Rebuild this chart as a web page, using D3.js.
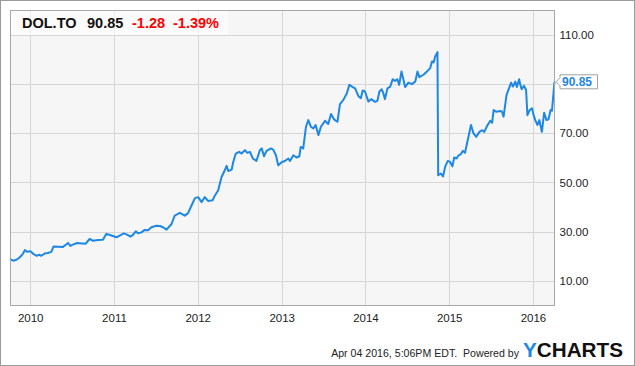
<!DOCTYPE html>
<html>
<head>
<meta charset="utf-8">
<script src="https://cdn.jsdelivr.net/npm/d3@7"></script>
<style>
    body { margin: 0; background: #fff; }
    svg text { font-family: "Liberation Sans", Arial, sans-serif; }
</style>
</head>
<body>
<div id="chart"></div>
<script>
var TICKER = 'DOL.TO'
var LAST_PRICE = '90.85'
var CHANGE = '-1.28'
var CHANGE_PCT = '-1.39%'
var STAMP = 'Apr 04 2016, 5:06PM EDT.  Powered by'

var DATES = [
    '2009-10-05', '2009-10-18', '2009-11-02', '2009-11-16', '2009-12-01', '2009-12-09', '2009-12-18',
    '2010-01-02', '2010-01-13', '2010-01-28', '2010-02-11', '2010-02-19', '2010-03-05', '2010-03-19',
    '2010-04-03', '2010-04-13', '2010-05-02', '2010-05-24', '2010-06-04', '2010-06-15', '2010-06-25',
    '2010-07-06', '2010-07-24', '2010-08-16', '2010-08-31', '2010-09-17', '2010-10-02', '2010-10-23',
    '2010-11-14', '2010-11-29', '2010-12-21', '2011-01-12', '2011-01-26', '2011-02-13', '2011-02-27',
    '2011-03-14', '2011-03-25', '2011-04-06', '2011-04-16', '2011-05-01', '2011-05-15', '2011-05-30',
    '2011-06-13', '2011-07-05', '2011-07-20', '2011-08-03', '2011-08-18', '2011-09-09', '2011-09-23',
    '2011-10-15', '2011-11-06', '2011-11-20', '2011-12-05', '2011-12-20', '2012-01-03', '2012-01-18',
    '2012-02-01', '2012-02-16', '2012-03-06', '2012-03-16', '2012-03-30', '2012-04-14', '2012-04-28',
    '2012-05-06', '2012-05-13', '2012-05-28', '2012-06-04', '2012-06-15', '2012-06-30', '2012-07-10',
    '2012-07-25', '2012-08-04', '2012-08-16', '2012-08-28', '2012-09-13', '2012-09-28', '2012-10-06',
    '2012-10-16', '2012-10-27', '2012-11-15', '2012-11-25', '2012-12-07', '2012-12-17', '2013-01-02',
    '2013-01-15', '2013-01-30', '2013-02-06', '2013-02-21', '2013-03-07', '2013-03-19', '2013-03-25',
    '2013-04-05', '2013-04-17', '2013-04-27', '2013-05-08', '2013-05-19', '2013-05-29', '2013-06-10',
    '2013-06-21', '2013-07-09', '2013-07-23', '2013-08-04', '2013-08-17', '2013-09-01', '2013-09-12',
    '2013-09-27', '2013-10-12', '2013-10-23', '2013-11-07', '2013-11-17', '2013-12-01', '2013-12-12',
    '2013-12-20', '2013-12-30', '2014-01-14', '2014-01-26', '2014-02-12', '2014-02-22', '2014-03-03',
    '2014-03-13', '2014-03-20', '2014-03-27', '2014-04-07', '2014-04-19', '2014-04-30', '2014-05-10',
    '2014-05-20', '2014-05-28', '2014-06-07', '2014-06-16', '2014-06-23', '2014-07-07', '2014-07-22',
    '2014-08-06', '2014-08-16', '2014-08-24', '2014-09-11', '2014-09-26', '2014-10-10', '2014-10-18',
    '2014-10-25', '2014-11-01', '2014-11-11', '2014-11-14', '2014-11-26', '2014-12-05', '2014-12-15',
    '2014-12-26', '2015-01-05', '2015-01-15', '2015-01-23', '2015-02-02', '2015-02-11', '2015-02-20',
    '2015-03-02', '2015-03-11', '2015-03-26', '2015-04-06', '2015-04-17', '2015-04-29', '2015-05-13',
    '2015-05-25', '2015-06-03', '2015-06-15', '2015-06-29', '2015-07-07', '2015-07-14', '2015-07-24',
    '2015-08-12', '2015-08-19', '2015-08-26', '2015-09-08', '2015-09-17', '2015-09-28', '2015-10-06',
    '2015-10-16', '2015-10-23', '2015-11-02', '2015-11-06', '2015-11-13', '2015-11-23', '2015-12-02',
    '2015-12-08', '2015-12-18', '2015-12-28', '2016-01-04', '2016-01-11', '2016-01-21', '2016-01-29',
    '2016-02-09', '2016-02-19', '2016-02-29', '2016-03-09', '2016-03-18', '2016-03-24', '2016-04-04'
]

var PRICES = [
    18.9, 18.2, 18.6, 19.5, 21.1, 22.5, 21.8,
    22.0, 21.1, 20.2, 20.6, 20.2, 21.1, 21.3,
    21.8, 24.0, 23.9, 23.8, 24.6, 25.4, 24.2,
    24.7, 25.4, 25.2, 25.1, 27.0, 26.3, 26.6,
    26.7, 29.1, 28.4, 27.7, 28.4, 29.3, 28.8,
    28.0, 28.7, 30.1, 29.3, 29.7, 30.7, 30.6,
    31.8, 32.4, 32.3, 31.8, 30.8, 33.1, 36.5,
    37.6, 36.5, 37.5, 40.6, 43.6, 44.0, 42.0,
    44.0, 42.4, 42.7, 44.7, 46.7, 52.2, 54.9,
    56.7, 54.6, 55.2, 58.3, 61.7, 62.4, 61.7,
    63.1, 62.0, 62.4, 59.7, 58.7, 63.1, 63.8,
    60.6, 62.8, 63.8, 63.3, 61.0, 56.9, 58.3,
    58.7, 59.7, 58.7, 61.0, 60.1, 60.6, 64.4,
    63.8, 72.6, 75.3, 72.6, 71.9, 73.3, 69.2,
    72.6, 75.0, 73.7, 77.8, 75.6, 74.6, 81.8,
    83.5, 86.2, 89.6, 88.7, 88.2, 85.1, 84.2,
    87.3, 86.9, 82.8, 83.8, 82.7, 83.1, 86.9,
    87.8, 86.2, 83.8, 88.2, 88.9, 91.9, 91.2,
    91.9, 89.6, 95.0, 91.6, 88.7, 90.5, 89.9,
    90.9, 95.0, 92.7, 93.7, 95.0, 96.4, 99.1,
    98.7, 101.1, 102.9, 52.9, 53.6, 52.4, 56.5,
    58.7, 58.3, 56.5, 60.1, 59.7, 61.0, 61.4,
    62.8, 62.0, 68.5, 73.3, 69.9, 68.5, 70.5,
    71.2, 70.5, 72.9, 75.0, 74.2, 79.4, 78.7,
    79.0, 78.7, 76.7, 85.5, 87.8, 90.5, 88.9,
    90.9, 88.7, 91.9, 90.0, 87.8, 89.2, 87.6,
    77.3, 79.4, 80.1, 77.3, 75.3, 73.3, 75.3,
    70.5, 78.3, 75.3, 75.6, 79.4, 79.1, 90.85
]

var Y_TICKS = [10, 30, 50, 70, 90, 110]
var Y_DOMAIN = [0, 120]
var X_TICKS = ['2010-01-01', '2011-01-01', '2012-01-01', '2013-01-01', '2014-01-01', '2015-01-01', '2016-01-01']

var W = 635
var H = 366
var LINE_COLOR = '#1d87e4'

var parseDate = d3.timeParse('%Y-%m-%d')

var data = DATES.map(function (d, i) {
    return { date: parseDate(d), price: PRICES[i] }
})

var plot = { left: 10, top: 10, right: 554.5, bottom: 305.5 }

var svg = d3.select('#chart')
    .append('svg')
    .attr('width', W)
    .attr('height', H)

// outer frame
svg.append('rect')
    .attr('x', 0.5)
    .attr('y', 0.5)
    .attr('width', W - 1)
    .attr('height', H - 1)
    .attr('fill', '#fff')
    .attr('stroke', '#9a9a9a')

var x = d3.scaleTime()
    .domain(d3.extent(data, function (d) { return d.date }))
    .range([plot.left, plot.right])

var y = d3.scaleLinear()
    .domain(Y_DOMAIN)
    .range([plot.bottom, plot.top])

svg.append('rect')
    .attr('x', plot.left)
    .attr('y', plot.top)
    .attr('width', plot.right - plot.left)
    .attr('height', plot.bottom - plot.top)
    .attr('fill', '#f6f6f6')

// grid lines
svg.append('g')
    .attr('class', 'y-grid')
    .selectAll('line')
    .data(Y_TICKS)
    .enter().append('line')
    .attr('x1', plot.left)
    .attr('x2', plot.right)
    .attr('y1', function (d) { return Math.round(y(d)) + 0.5 })
    .attr('y2', function (d) { return Math.round(y(d)) + 0.5 })
    .attr('stroke', '#d6d6d6')

var xTickDates = X_TICKS.map(parseDate)

svg.append('g')
    .attr('class', 'x-grid')
    .selectAll('line')
    .data(xTickDates)
    .enter().append('line')
    .attr('x1', function (d) { return Math.round(x(d)) + 0.5 })
    .attr('x2', function (d) { return Math.round(x(d)) + 0.5 })
    .attr('y1', plot.top)
    .attr('y2', plot.bottom)
    .attr('stroke', '#d6d6d6')

// header box
svg.append('rect')
    .attr('x', plot.left)
    .attr('y', plot.top)
    .attr('width', 218)
    .attr('height', 25)
    .attr('fill', '#fff')
    .attr('fill-opacity', 0.6)

var line = d3.line()
    .x(function (d) { return x(d.date) })
    .y(function (d) { return y(d.price) })

svg.append('path')
    .datum(data)
    .attr('fill', 'none')
    .attr('stroke', LINE_COLOR)
    .attr('stroke-width', 2)
    .attr('stroke-linejoin', 'round')
    .attr('d', line)

// plot frame
svg.append('rect')
    .attr('x', plot.left + 0.5)
    .attr('y', plot.top + 0.5)
    .attr('width', plot.right - plot.left - 0.5)
    .attr('height', plot.bottom - plot.top - 0.5)
    .attr('fill', 'none')
    .attr('stroke', '#a8a8a8')

// axes
var xAxis = d3.axisBottom(x)
    .tickValues(xTickDates)
    .tickSize(0)
    .tickPadding(8)
    .tickFormat(d3.timeFormat('%Y'))

svg.append('g')
    .attr('class', 'x-axis')
    .attr('transform', 'translate(0,' + plot.bottom + ')')
    .call(xAxis)

var last = data[data.length - 1]
var flagY = y(last.price)

var yAxis = d3.axisRight(y)
    .tickValues(Y_TICKS.filter(function (t) { return Math.abs(y(t) - flagY) > 10 }))
    .tickSize(0)
    .tickPadding(5)
    .tickFormat(d3.format('.2f'))

svg.append('g')
    .attr('class', 'y-axis')
    .attr('transform', 'translate(' + plot.right + ',0)')
    .call(yAxis)

svg.selectAll('.x-axis .domain, .y-axis .domain').remove()
svg.selectAll('.x-axis text, .y-axis text')
    .attr('fill', '#222')
    .style('font-size', '11.5px')

// last price flag
var flag = svg.append('g')
    .attr('transform', 'translate(' + (plot.right + 1) + ',' + flagY + ')')

flag.append('path')
    .attr('d', 'M0.5,0 L4.5,-4 L4.5,-7 L42,-7 L42,7 L4.5,7 L4.5,4 Z')
    .attr('fill', '#fff')
    .attr('stroke', '#a0a0a0')

flag.append('text')
    .attr('x', 6.5)
    .attr('y', 4.5)
    .attr('fill', LINE_COLOR)
    .style('font-size', '12px')
    .style('font-weight', 'bold')
    .text(LAST_PRICE)

// title
var title = svg.append('text')
    .attr('x', 22)
    .attr('y', 28)
    .style('font-size', '14.5px')
    .style('font-weight', 'bold')

title.append('tspan').attr('fill', '#111').text(TICKER)
title.append('tspan').attr('x', 87).attr('fill', '#111').text(LAST_PRICE)
title.append('tspan').attr('x', 132).attr('fill', '#f00').text(CHANGE)
title.append('tspan').attr('x', 173).attr('fill', '#f00').text(CHANGE_PCT)

// footer
svg.append('text')
    .attr('x', 519)
    .attr('y', 357)
    .attr('text-anchor', 'end')
    .attr('fill', '#222')
    .style('font-size', '10.6px')
    .style('white-space', 'pre')
    .text(STAMP)

var logo = svg.append('text')
    .attr('x', 523)
    .attr('y', 357)
    .style('font-size', '20px')
    .style('font-weight', 'bold')
    .attr('textLength', 100)
    .attr('lengthAdjust', 'spacingAndGlyphs')

logo.append('tspan').attr('fill', '#1d87e4').text('Y')
logo.append('tspan').attr('fill', '#111').text('CHARTS')
</script>
</body>
</html>
